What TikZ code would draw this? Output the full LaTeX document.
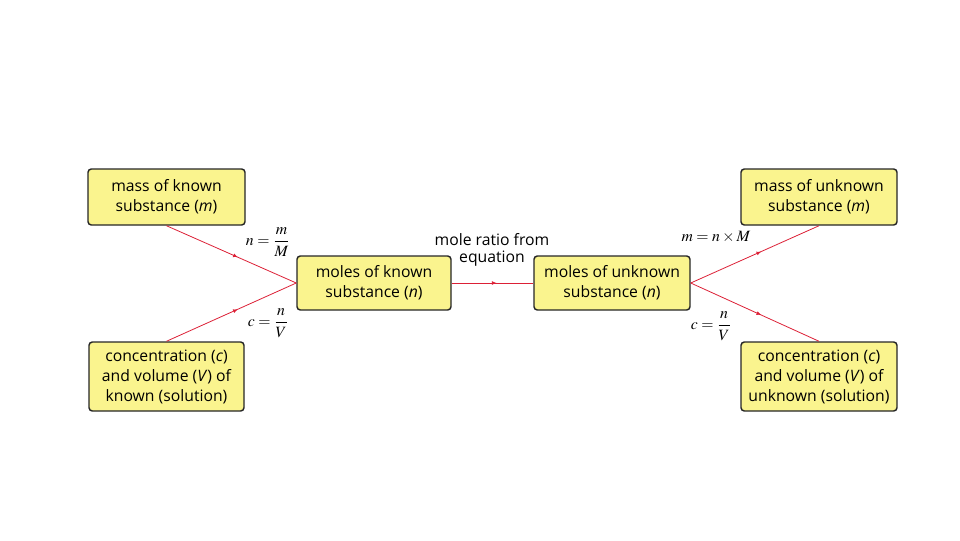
\documentclass[tikz,border=0pt]{standalone}
\usepackage{amsmath}
\usepackage{mathptmx}
\usepackage{fontspec}
\setmainfont{Open Sans}
\usetikzlibrary{decorations.markings,arrows.meta}
\definecolor{boxfill}{HTML}{FAF48E}
\definecolor{linkred}{HTML}{DC2036}
\begin{document}
\begin{tikzpicture}[x=0.75pt,y=-0.75pt,
  box/.style={draw=black!85,line width=1.1pt,fill=boxfill,rounded corners=2.5pt,
    align=center,inner sep=2pt,font=\fontsize{11.8}{15}\selectfont},
  link/.style={draw=linkred,line width=0.6pt,
    postaction={decorate,decoration={markings,mark=at position 0.55 with {\arrow[linkred]{Latex[length=3.5pt,width=3pt]}}}}},
  lab/.style={font=\fontsize{11.8}{13}\selectfont,inner sep=0pt,align=center}]
\useasboundingbox (0,0) rectangle (960,540);
\node[box,minimum width=117.75pt,minimum height=42pt] (A) at (166.5,197) {mass of known\\substance (\textit{m})};
\node[box,minimum width=116.25pt,minimum height=51.75pt] (B) at (166.5,376.5) {concentration (\textit{c})\\and volume (\textit{V}) of\\known (solution)};
\node[box,minimum width=115.5pt,minimum height=40.5pt] (C) at (374,283) {moles of known\\substance (\textit{n})};
\node[box,minimum width=117pt,minimum height=40.5pt] (D) at (612,283) {moles of unknown\\substance (\textit{n})};
\node[box,minimum width=117pt,minimum height=42pt] (E) at (819,197) {mass of unknown\\substance (\textit{m})};
\node[box,minimum width=117pt,minimum height=51.75pt] (F) at (819,376.5) {concentration (\textit{c})\\and volume (\textit{V}) of\\unknown (solution)};
\draw[link] (A.south) -- (C.west);
\draw[link] (B.north) -- (C.west);
\draw[link] (C.east) -- (D.west);
\draw[link] (D.east) -- (E.south);
\draw[link] (D.east) -- (F.north);
\node[lab] (l1) at (268,242) {$n=\dfrac{m}{M}$};
\node[lab] (l2) at (268,323) {$c=\dfrac{n}{V}$};
\node[lab] (l3) at (492,250) {mole ratio from\\equation};
\node[lab] (l4) at (716,237) {$m=n\times M$};
\node[lab] (l5) at (711,326) {$c=\dfrac{n}{V}$};
\end{tikzpicture}
\end{document}
